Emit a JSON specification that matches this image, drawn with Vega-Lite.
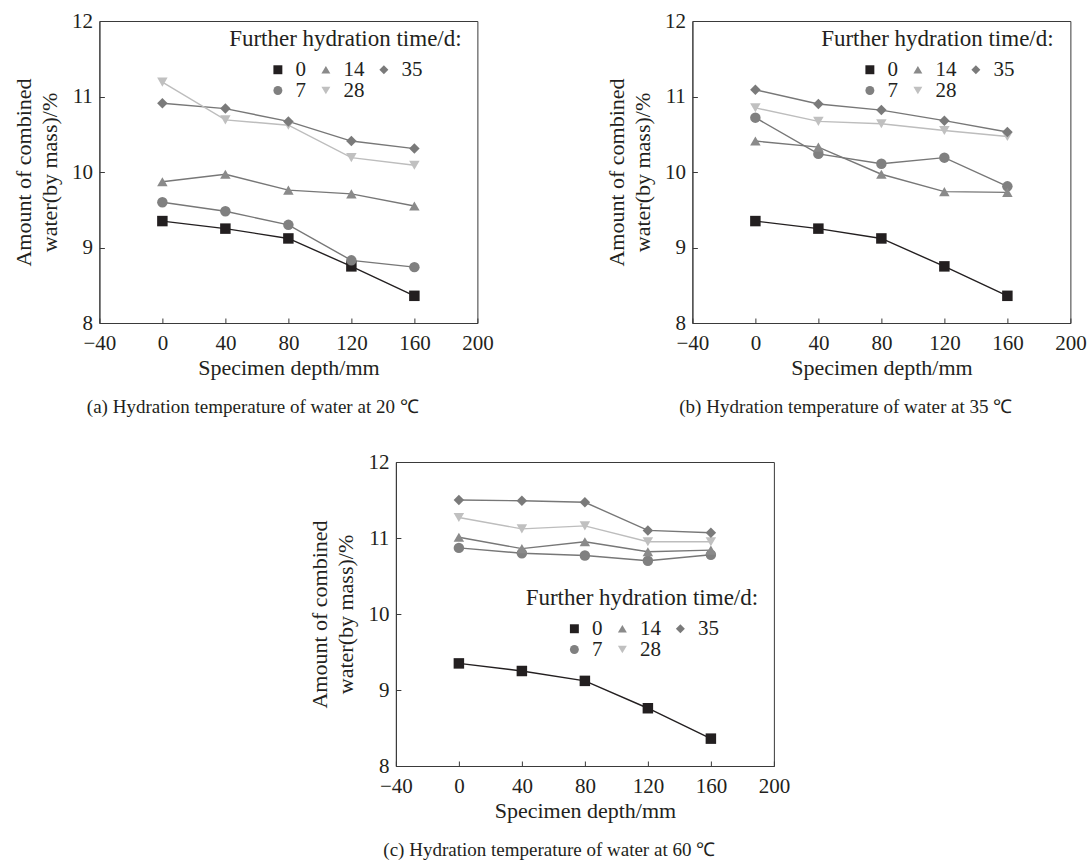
{
  "$schema": "https://vega.github.io/schema/vega-lite/v6.json",
  "background": "white",
  "padding": {"left": 11, "top": 9, "right": 0, "bottom": 5},
  "config": {
    "font": "Liberation Serif",
    "view": {"stroke": "#3a3a3a", "strokeWidth": 1},
    "axis": {"grid": false, "domainColor": "#3a3a3a", "tickColor": "#3a3a3a", "tickSize": -5, "labelFontSize": 21, "labelColor": "#231f20", "titleFontSize": 22, "titleFontWeight": "normal", "titleColor": "#231f20"},
    "axisX": {"labelPadding": 14, "titlePadding": 4, "labelFlush": false},
    "axisY": {"labelPadding": 12, "titlePadding": 10, "titleLineHeight": 26},
    "legend": {"titleFontSize": 23, "titleFontWeight": "normal", "titleColor": "#231f20", "labelFontSize": 21, "labelColor": "#231f20", "columns": 3, "titleLimit": 400, "padding": 0, "symbolSize": 80, "rowPadding": -2, "columnPadding": 9, "labelOffset": 7, "titlePadding": 8, "titleAnchor": "middle"},
    "title": {"fontSize": 19, "fontWeight": "normal", "color": "#231f20"}
  },
  "datasets": {
    "a": [
      {"d": 0, "t": "0", "w": 9.35}, {"d": 40, "t": "0", "w": 9.25}, {"d": 80, "t": "0", "w": 9.12}, {"d": 120, "t": "0", "w": 8.75}, {"d": 160, "t": "0", "w": 8.36},
      {"d": 0, "t": "7", "w": 9.6}, {"d": 40, "t": "7", "w": 9.48}, {"d": 80, "t": "7", "w": 9.3}, {"d": 120, "t": "7", "w": 8.83}, {"d": 160, "t": "7", "w": 8.74},
      {"d": 0, "t": "14", "w": 9.87}, {"d": 40, "t": "14", "w": 9.97}, {"d": 80, "t": "14", "w": 9.76}, {"d": 120, "t": "14", "w": 9.71}, {"d": 160, "t": "14", "w": 9.55},
      {"d": 0, "t": "28", "w": 11.19}, {"d": 40, "t": "28", "w": 10.69}, {"d": 80, "t": "28", "w": 10.62}, {"d": 120, "t": "28", "w": 10.19}, {"d": 160, "t": "28", "w": 10.09},
      {"d": 0, "t": "35", "w": 10.91}, {"d": 40, "t": "35", "w": 10.84}, {"d": 80, "t": "35", "w": 10.67}, {"d": 120, "t": "35", "w": 10.41}, {"d": 160, "t": "35", "w": 10.31}
    ],
    "b": [
      {"d": 0, "t": "0", "w": 9.35}, {"d": 40, "t": "0", "w": 9.25}, {"d": 80, "t": "0", "w": 9.12}, {"d": 120, "t": "0", "w": 8.75}, {"d": 160, "t": "0", "w": 8.36},
      {"d": 0, "t": "7", "w": 10.72}, {"d": 40, "t": "7", "w": 10.24}, {"d": 80, "t": "7", "w": 10.11}, {"d": 120, "t": "7", "w": 10.19}, {"d": 160, "t": "7", "w": 9.81},
      {"d": 0, "t": "14", "w": 10.41}, {"d": 40, "t": "14", "w": 10.33}, {"d": 80, "t": "14", "w": 9.97}, {"d": 120, "t": "14", "w": 9.74}, {"d": 160, "t": "14", "w": 9.73},
      {"d": 0, "t": "28", "w": 10.85}, {"d": 40, "t": "28", "w": 10.67}, {"d": 80, "t": "28", "w": 10.64}, {"d": 120, "t": "28", "w": 10.55}, {"d": 160, "t": "28", "w": 10.47},
      {"d": 0, "t": "35", "w": 11.09}, {"d": 40, "t": "35", "w": 10.9}, {"d": 80, "t": "35", "w": 10.82}, {"d": 120, "t": "35", "w": 10.68}, {"d": 160, "t": "35", "w": 10.53}
    ],
    "c": [
      {"d": 0, "t": "0", "w": 9.35}, {"d": 40, "t": "0", "w": 9.25}, {"d": 80, "t": "0", "w": 9.12}, {"d": 120, "t": "0", "w": 8.76}, {"d": 160, "t": "0", "w": 8.36},
      {"d": 0, "t": "7", "w": 10.87}, {"d": 40, "t": "7", "w": 10.8}, {"d": 80, "t": "7", "w": 10.77}, {"d": 120, "t": "7", "w": 10.7}, {"d": 160, "t": "7", "w": 10.78},
      {"d": 0, "t": "14", "w": 11.01}, {"d": 40, "t": "14", "w": 10.86}, {"d": 80, "t": "14", "w": 10.95}, {"d": 120, "t": "14", "w": 10.82}, {"d": 160, "t": "14", "w": 10.84},
      {"d": 0, "t": "28", "w": 11.27}, {"d": 40, "t": "28", "w": 11.12}, {"d": 80, "t": "28", "w": 11.16}, {"d": 120, "t": "28", "w": 10.95}, {"d": 160, "t": "28", "w": 10.95},
      {"d": 0, "t": "35", "w": 11.5}, {"d": 40, "t": "35", "w": 11.49}, {"d": 80, "t": "35", "w": 11.47}, {"d": 120, "t": "35", "w": 11.1}, {"d": 160, "t": "35", "w": 11.07}
    ]
  },
  "resolve": {"scale": {"color": "independent", "shape": "independent"}, "legend": {"color": "independent", "shape": "independent"}},
  "center": true,
  "spacing": 32,
  "vconcat": [
    {
      "spacing": 110,
      "resolve": {"scale": {"color": "independent", "shape": "independent"}, "legend": {"color": "independent", "shape": "independent"}},
      "hconcat": [
        {
          "width": 378, "height": 302,
          "data": {"name": "a"},
          "title": {"text": "(a) Hydration temperature of water at 20 ℃", "orient": "bottom", "anchor": "middle", "frame": "bounds", "offset": 20},
          "encoding": {
            "x": {"field": "d", "type": "quantitative", "scale": {"domain": [-40, 200], "nice": false}, "axis": {"values": [-40, 0, 40, 80, 120, 160, 200], "title": "Specimen depth/mm"}},
            "y": {"field": "w", "type": "quantitative", "scale": {"domain": [8, 12], "nice": false, "zero": false}, "axis": {"values": [8, 9, 10, 11, 12], "title": ["Amount of combined", "water(by mass)/%"]}}
          },
          "layer": [
            {"transform": [{"filter": "datum.t != '0' && datum.t != '28'"}], "mark": {"type": "line", "color": "#777777", "strokeWidth": 1.4}, "encoding": {"detail": {"field": "t"}}},
            {"transform": [{"filter": "datum.t == '28'"}], "mark": {"type": "line", "color": "#bdbdbd", "strokeWidth": 1.4}, "encoding": {}},
            {"transform": [{"filter": "datum.t == '0'"}], "mark": {"type": "line", "color": "#231f20", "strokeWidth": 1.4}, "encoding": {}},
            {"mark": {"type": "point", "filled": true, "opacity": 1, "size": 110}, "encoding": {
              "color": {"field": "t", "type": "nominal", "scale": {"domain": ["0", "7", "14", "28", "35"], "range": ["#231f20", "#808080", "#8a8a8a", "#c0c0c0", "#7a7a7a"]}, "legend": {"title": "Further hydration time/d:", "orient": "none", "legendX": 130, "legendY": 7}},
              "shape": {"field": "t", "type": "nominal", "scale": {"domain": ["0", "7", "14", "28", "35"], "range": ["square", "circle", "triangle-up", "triangle-down", "diamond"]}, "legend": {"title": "Further hydration time/d:", "orient": "none", "legendX": 130, "legendY": 7}}
            }}
          ]
        },
        {
          "width": 378, "height": 302,
          "data": {"name": "b"},
          "title": {"text": "(b) Hydration temperature of water at 35 ℃", "orient": "bottom", "anchor": "middle", "frame": "bounds", "offset": 20},
          "encoding": {
            "x": {"field": "d", "type": "quantitative", "scale": {"domain": [-40, 200], "nice": false}, "axis": {"values": [-40, 0, 40, 80, 120, 160, 200], "title": "Specimen depth/mm"}},
            "y": {"field": "w", "type": "quantitative", "scale": {"domain": [8, 12], "nice": false, "zero": false}, "axis": {"values": [8, 9, 10, 11, 12], "title": ["Amount of combined", "water(by mass)/%"]}}
          },
          "layer": [
            {"transform": [{"filter": "datum.t != '0' && datum.t != '28'"}], "mark": {"type": "line", "color": "#777777", "strokeWidth": 1.4}, "encoding": {"detail": {"field": "t"}}},
            {"transform": [{"filter": "datum.t == '28'"}], "mark": {"type": "line", "color": "#bdbdbd", "strokeWidth": 1.4}, "encoding": {}},
            {"transform": [{"filter": "datum.t == '0'"}], "mark": {"type": "line", "color": "#231f20", "strokeWidth": 1.4}, "encoding": {}},
            {"mark": {"type": "point", "filled": true, "opacity": 1, "size": 110}, "encoding": {
              "color": {"field": "t", "type": "nominal", "scale": {"domain": ["0", "7", "14", "28", "35"], "range": ["#231f20", "#808080", "#8a8a8a", "#c0c0c0", "#7a7a7a"]}, "legend": {"title": "Further hydration time/d:", "orient": "none", "legendX": 129, "legendY": 7}},
              "shape": {"field": "t", "type": "nominal", "scale": {"domain": ["0", "7", "14", "28", "35"], "range": ["square", "circle", "triangle-up", "triangle-down", "diamond"]}, "legend": {"title": "Further hydration time/d:", "orient": "none", "legendX": 129, "legendY": 7}}
            }}
          ]
        }
      ]
    },
    {
      "width": 378, "height": 304,
      "data": {"name": "c"},
      "title": {"text": "(c) Hydration temperature of water at 60 ℃", "orient": "bottom", "anchor": "middle", "frame": "bounds", "offset": 20},
      "encoding": {
        "x": {"field": "d", "type": "quantitative", "scale": {"domain": [-40, 200], "nice": false}, "axis": {"values": [-40, 0, 40, 80, 120, 160, 200], "title": "Specimen depth/mm"}},
        "y": {"field": "w", "type": "quantitative", "scale": {"domain": [8, 12], "nice": false, "zero": false}, "axis": {"values": [8, 9, 10, 11, 12], "title": ["Amount of combined", "water(by mass)/%"]}}
      },
      "layer": [
        {"transform": [{"filter": "datum.t != '0' && datum.t != '28'"}], "mark": {"type": "line", "color": "#777777", "strokeWidth": 1.4}, "encoding": {"detail": {"field": "t"}}},
        {"transform": [{"filter": "datum.t == '28'"}], "mark": {"type": "line", "color": "#bdbdbd", "strokeWidth": 1.4}, "encoding": {}},
        {"transform": [{"filter": "datum.t == '0'"}], "mark": {"type": "line", "color": "#231f20", "strokeWidth": 1.4}, "encoding": {}},
        {"mark": {"type": "point", "filled": true, "opacity": 1, "size": 110}, "encoding": {
          "color": {"field": "t", "type": "nominal", "scale": {"domain": ["0", "7", "14", "28", "35"], "range": ["#231f20", "#808080", "#8a8a8a", "#c0c0c0", "#7a7a7a"]}, "legend": {"title": "Further hydration time/d:", "orient": "none", "legendX": 130, "legendY": 125}},
          "shape": {"field": "t", "type": "nominal", "scale": {"domain": ["0", "7", "14", "28", "35"], "range": ["square", "circle", "triangle-up", "triangle-down", "diamond"]}, "legend": {"title": "Further hydration time/d:", "orient": "none", "legendX": 130, "legendY": 125}}
        }}
      ]
    }
  ]
}
